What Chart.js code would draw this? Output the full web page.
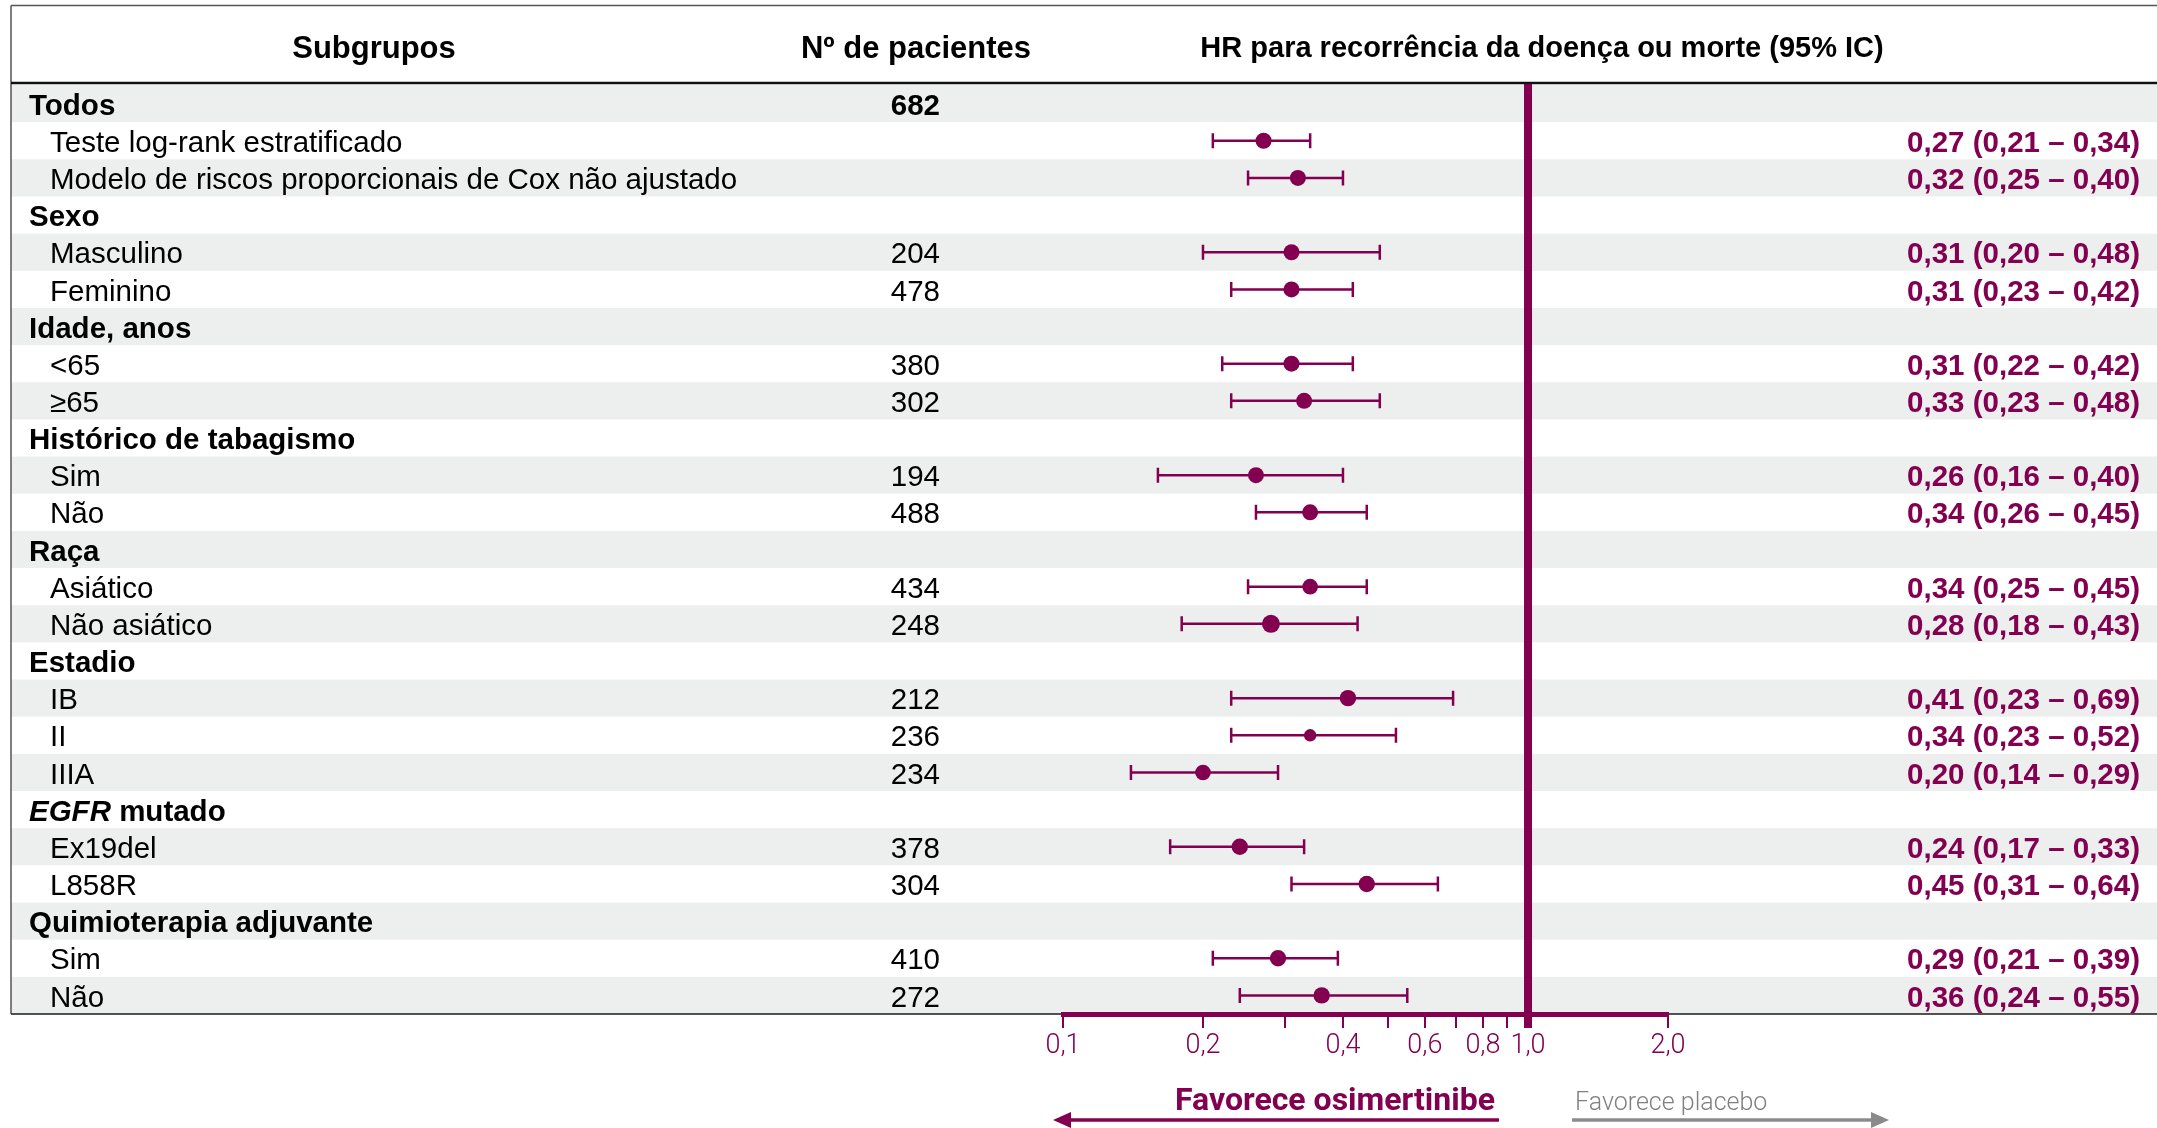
<!DOCTYPE html>
<html lang="pt">
<head>
<meta charset="utf-8">
<title>HR para recorrência da doença ou morte</title>
<script src="https://cdn.jsdelivr.net/npm/chart.js@4/dist/chart.umd.min.js"></script>
<style>
  html, body { margin: 0; padding: 0; background: #ffffff; }
  #wrap { width: 2157px; height: 1128px; }
</style>
</head>
<body>
<div id="wrap"><canvas id="forest" width="2157" height="1128"></canvas></div>
<script>
// Subgroup rows, top to bottom
const rowLabels = [
  'Todos', 'Teste log-rank estratificado', 'Modelo de riscos proporcionais de Cox não ajustado',
  'Sexo', 'Masculino', 'Feminino',
  'Idade, anos', '<65', '≥65',
  'Histórico de tabagismo', 'Sim', 'Não',
  'Raça', 'Asiático', 'Não asiático',
  'Estadio', 'IB', 'II', 'IIIA',
  'EGFR mutado', 'Ex19del', 'L858R',
  'Quimioterapia adjuvante', 'Sim', 'Não'
];
const rowIsGroup = [
  true, false, false,
  true, false, false,
  true, false, false,
  true, false, false,
  true, false, false,
  true, false, false, false,
  true, false, false,
  true, false, false
];
const italicWords = ['EGFR'];

// Number of patients per row
const patients = [
  '682', '', '',
  '', '204', '478',
  '', '380', '302',
  '', '194', '488',
  '', '434', '248',
  '', '212', '236', '234',
  '', '378', '304',
  '', '410', '272'
];

// Hazard ratio and 95% CI per row
const hr = [
  null, 0.27, 0.32,
  null, 0.31, 0.31,
  null, 0.31, 0.33,
  null, 0.26, 0.34,
  null, 0.34, 0.28,
  null, 0.41, 0.34, 0.20,
  null, 0.24, 0.45,
  null, 0.29, 0.36
];
const ciLow = [
  null, 0.21, 0.25,
  null, 0.20, 0.23,
  null, 0.22, 0.23,
  null, 0.16, 0.26,
  null, 0.25, 0.18,
  null, 0.23, 0.23, 0.14,
  null, 0.17, 0.31,
  null, 0.21, 0.24
];
const ciHigh = [
  null, 0.34, 0.40,
  null, 0.48, 0.42,
  null, 0.42, 0.48,
  null, 0.40, 0.45,
  null, 0.45, 0.43,
  null, 0.69, 0.52, 0.29,
  null, 0.33, 0.64,
  null, 0.39, 0.55
];

// Axis ticks
const tickValues = [0.1, 0.2, 0.3, 0.4, 0.5, 0.6, 0.7, 0.8, 0.9, 1.0, 2.0];
const tickLabels = ['0,1', '0,2', '', '0,4', '', '0,6', '', '0,8', '', '1,0', '2,0'];

// Marker radius for each row (px)
const markerRadius = [
  0, 8, 8,
  0, 8, 8,
  0, 8, 8,
  0, 8, 8,
  0, 7.8, 9,
  0, 8.2, 6.2, 7.8,
  0, 8.2, 8.2,
  0, 8.2, 8.2
];

const MULBERRY = '#830051';
const SHADE = '#edeeee';
const GREY_ARROW = '#8a8a8a';
const ROW_FONT = '"Liberation Sans", Arial, sans-serif';

const fmt = v => v.toFixed(2).replace('.', ',');

const points = [];
const radii = [];
hr.forEach((v, i) => {
  if (v !== null) { points.push({ x: v, y: i }); radii.push(markerRadius[i]); }
});

const tablePlugin = {
  id: 'forestTable',
  beforeDraw(chart) {
    const ctx = chart.ctx;
    const ys = chart.scales.y;
    const W = chart.width;
    const left = 11;
    const headerY = 83;
    const bottom = ys.getPixelForValue(rowLabels.length - 0.5);
    ctx.save();
    ctx.fillStyle = '#ffffff';
    ctx.fillRect(0, 0, W, chart.height);
    // alternating row shading
    ctx.fillStyle = SHADE;
    rowLabels.forEach((_, i) => {
      if (i % 2 === 0) {
        const t = ys.getPixelForValue(i - 0.5);
        const b = ys.getPixelForValue(i + 0.5);
        ctx.fillRect(left, t, W - left, b - t);
      }
    });
    // frame
    ctx.strokeStyle = '#555555';
    ctx.lineWidth = 1.5;
    ctx.beginPath();
    ctx.moveTo(left, 5.5); ctx.lineTo(W, 5.5);
    ctx.moveTo(left, 5.5); ctx.lineTo(left, bottom);
    ctx.stroke();
    ctx.strokeStyle = '#1a1a1a';
    ctx.lineWidth = 1.5;
    ctx.beginPath();
    ctx.moveTo(left, bottom); ctx.lineTo(W, bottom);
    ctx.stroke();
    ctx.strokeStyle = '#111111';
    ctx.lineWidth = 2.5;
    ctx.beginPath();
    ctx.moveTo(left, headerY); ctx.lineTo(W, headerY);
    ctx.stroke();
    // column headers
    ctx.fillStyle = '#000000';
    ctx.textAlign = 'center';
    ctx.textBaseline = 'middle';
    ctx.font = 'bold 31px ' + ROW_FONT;
    ctx.fillText('Subgrupos', 374, 49);
    ctx.fillText('Nº de pacientes', 916, 49);
    ctx.font = 'bold 29px ' + ROW_FONT;
    ctx.fillText('HR para recorrência da doença ou morte (95% IC)', 1542, 49);
    ctx.restore();
  },
  beforeDatasetsDraw(chart) {
    const ctx = chart.ctx;
    const xs = chart.scales.x;
    const ys = chart.scales.y;
    ctx.save();
    // line of no effect
    const x1 = xs.getPixelForValue(1);
    ctx.fillStyle = MULBERRY;
    ctx.fillRect(x1 - 4, 84, 8, 1028 - 84);
    // confidence intervals
    ctx.strokeStyle = MULBERRY;
    ctx.lineWidth = 2.5;
    hr.forEach((v, i) => {
      if (v === null) return;
      const y = ys.getPixelForValue(i);
      const a = xs.getPixelForValue(ciLow[i]);
      const b = xs.getPixelForValue(ciHigh[i]);
      ctx.beginPath();
      ctx.moveTo(a, y); ctx.lineTo(b, y);
      ctx.moveTo(a, y - 7.5); ctx.lineTo(a, y + 7.5);
      ctx.moveTo(b, y - 7.5); ctx.lineTo(b, y + 7.5);
      ctx.stroke();
    });
    ctx.restore();
  },
  afterDraw(chart) {
    const ctx = chart.ctx;
    const xs = chart.scales.x;
    const ys = chart.scales.y;
    ctx.save();
    ctx.textBaseline = 'middle';
    rowLabels.forEach((label, i) => {
      const y = ys.getPixelForValue(i) + 3;
      ctx.fillStyle = '#000000';
      ctx.textAlign = 'left';
      if (rowIsGroup[i]) {
        let x = 29;
        label.split(/(\s+)/).forEach(part => {
          ctx.font = (italicWords.includes(part) ? 'italic bold 29.5px ' : 'bold 29.5px ') + ROW_FONT;
          ctx.fillText(part, x, y);
          x += ctx.measureText(part).width;
        });
      } else {
        ctx.font = '29.5px ' + ROW_FONT;
        ctx.fillText(label, 50, y);
      }
      if (patients[i]) {
        ctx.textAlign = 'right';
        ctx.font = (rowIsGroup[i] ? 'bold 29.5px ' : '29.5px ') + ROW_FONT;
        ctx.fillText(patients[i], 940, y);
      }
      if (hr[i] !== null) {
        ctx.textAlign = 'right';
        ctx.fillStyle = MULBERRY;
        ctx.font = 'bold 29.5px ' + ROW_FONT;
        ctx.fillText(fmt(hr[i]) + ' (' + fmt(ciLow[i]) + ' – ' + fmt(ciHigh[i]) + ')', 2140, y);
      }
    });

    // direction arrows
    const x1 = xs.getPixelForValue(1);
    const x0 = xs.getPixelForValue(0.1);
    const ay = 1120;
    ctx.lineWidth = 3.5;
    ctx.strokeStyle = MULBERRY;
    ctx.fillStyle = MULBERRY;
    ctx.beginPath();
    ctx.moveTo(x0 + 4, ay); ctx.lineTo(x1 - 29, ay);
    ctx.stroke();
    ctx.beginPath();
    ctx.moveTo(x0 - 10, ay); ctx.lineTo(x0 + 8, ay - 8); ctx.lineTo(x0 + 8, ay + 8); ctx.closePath();
    ctx.fill();

    ctx.strokeStyle = GREY_ARROW;
    ctx.fillStyle = GREY_ARROW;
    ctx.beginPath();
    ctx.moveTo(x1 + 44, ay); ctx.lineTo(x1 + 346, ay);
    ctx.stroke();
    ctx.beginPath();
    ctx.moveTo(x1 + 361, ay); ctx.lineTo(x1 + 343, ay - 8); ctx.lineTo(x1 + 343, ay + 8); ctx.closePath();
    ctx.fill();

    ctx.textBaseline = 'alphabetic';
    ctx.textAlign = 'right';
    ctx.fillStyle = MULBERRY;
    ctx.font = 'bold 32px Roboto, sans-serif';
    ctx.fillText('Favorece osimertinibe', x1 - 33, 1110);
    ctx.textAlign = 'left';
    ctx.fillStyle = '#808080';
    ctx.font = '300 25px Roboto, sans-serif';
    ctx.fillText('Favorece placebo', x1 + 47, 1110);
    ctx.restore();
  }
};

new Chart(document.getElementById('forest'), {
  type: 'scatter',
  data: {
    datasets: [{
      data: points,
      pointRadius: radii,
      pointHoverRadius: radii,
      pointBackgroundColor: MULBERRY,
      pointBorderWidth: 0,
      showLine: false
    }]
  },
  options: {
    responsive: false,
    animation: false,
    events: [],
    layout: { padding: { left: 1063, right: 489, top: 85, bottom: 0 } },
    plugins: { legend: { display: false }, tooltip: { enabled: false } },
    scales: {
      x: {
        type: 'logarithmic',
        min: 0.1,
        max: 2.0,
        afterBuildTicks: scale => { scale.ticks = tickValues.map(v => ({ value: v })); },
        afterFit: scale => { scale.height = 114; },
        border: { display: true, color: MULBERRY, width: 5 },
        grid: { drawOnChartArea: false, drawTicks: true, tickLength: 14, color: MULBERRY, lineWidth: 2 },
        ticks: {
          autoSkip: false,
          maxRotation: 0,
          padding: 2,
          color: MULBERRY,
          font: { family: 'Roboto', weight: '300', size: 27 },
          callback: (value) => {
            const k = tickValues.findIndex(t => Math.abs(t - value) < 1e-9);
            return k >= 0 ? tickLabels[k] : '';
          }
        }
      },
      y: {
        type: 'linear',
        min: -0.5,
        max: rowLabels.length - 0.5,
        reverse: true,
        display: false
      }
    }
  },
  plugins: [tablePlugin]
});
</script>
</body>
</html>
